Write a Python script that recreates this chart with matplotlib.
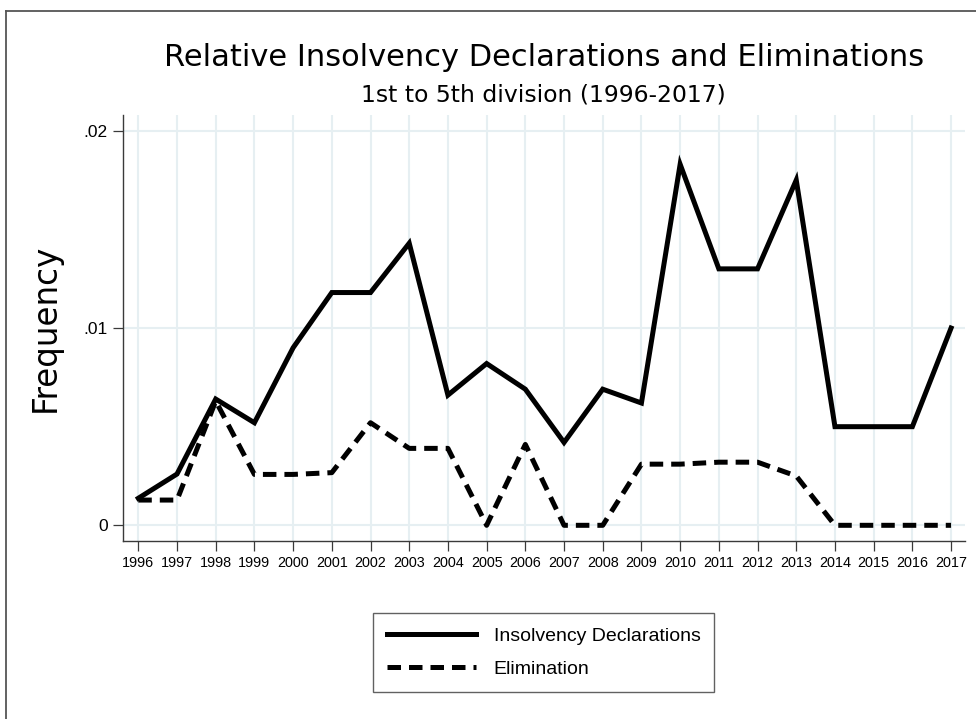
import matplotlib
matplotlib.use("Agg")
import matplotlib.pyplot as plt
from matplotlib.lines import Line2D

# ---- data ----
years = list(range(1996, 2018))
insolvency = [0.00137, 0.0026, 0.0064, 0.0052, 0.0090, 0.0118, 0.0118, 0.0143,
              0.0066, 0.0082, 0.0069, 0.0042, 0.0069, 0.0062, 0.0183, 0.0130,
              0.0130, 0.0175, 0.0050, 0.0050, 0.0050, 0.0100]
elimination = [0.00128, 0.00128, 0.0063, 0.00258, 0.00258, 0.00267, 0.0052, 0.0039,
               0.0039, 0.0, 0.0041, 0.0, 0.0, 0.0031, 0.0031, 0.0032,
               0.0032, 0.0025, 0.0, 0.0, 0.0, 0.0]
ytick_vals = [0, 0.01, 0.02]
ytick_labels = ["0", ".01", ".02"]
series_labels = ["Insolvency Declarations", "Elimination"]
title = "Relative Insolvency Declarations and Eliminations"
subtitle = "1st to 5th division (1996-2017)"
ylabel = "Frequency"

W, H = 976, 719
fig = plt.figure(figsize=(W / 100, H / 100), dpi=100)
fig.patch.set_facecolor("white")

def fx(px):
    return px / W

def fy(py):
    return 1 - py / H

left, right, top, bottom = 122.7, 965, 115, 540.7
ax = fig.add_axes([fx(left), fy(bottom), fx(right - left), (bottom - top) / H])

grid_c = "#E6EFF2"
spine_c = "#3a3a3a"

lw = 3.6
l1, = ax.plot(years, insolvency, color="black", lw=lw, solid_joinstyle="miter",
              label=series_labels[0], zorder=3)
l2, = ax.plot(years, elimination, color="black", lw=lw,
              linestyle=(0, (2.7, 1.6)), label=series_labels[1], zorder=3)

ax.set_xlim(1995.597, 2017.36)
ax.set_ylim(-0.00078, 0.0208)
ax.set_xticks(years)
ax.set_xticklabels([str(y) for y in years])
ax.set_yticks(ytick_vals)
ax.set_yticklabels(ytick_labels)

ax.grid(True, color=grid_c, lw=1.5, zorder=0)
ax.set_axisbelow(True)
for s in ["top", "right"]:
    ax.spines[s].set_visible(False)
for s in ["left", "bottom"]:
    ax.spines[s].set_color(spine_c)
    ax.spines[s].set_linewidth(1.0)

ax.tick_params(axis="both", direction="out", length=7.2, width=0.9, color=spine_c)
ax.tick_params(axis="x", pad=4, labelsize=10.4)
ax.tick_params(axis="y", pad=3.5, labelsize=12.5)
for t in ax.get_xticklabels() + ax.get_yticklabels():
    t.set_fontfamily("Liberation Sans")
    t.set_color("black")

# titles
cx = fx((left + right) / 2)
fig.text(cx, fy(66), title, ha="center", va="baseline", fontsize=22,
         family="DejaVu Sans", color="black")
fig.text(cx, fy(101), subtitle, ha="center", va="baseline", fontsize=16.9,
         family="DejaVu Sans", color="black")
fig.text(fx(45), fy(328), ylabel, ha="center", va="center", rotation=90,
         fontsize=23.5, family="DejaVu Sans", color="black")

# legend
leg = fig.legend(handles=[l1, l2], labels=series_labels,
                 loc="center", bbox_to_anchor=(fx((371 + 716) / 2), fy((612.3 + 692.7) / 2)),
                 prop={"family": "Liberation Sans", "size": 14},
                 handlelength=4.6, handletextpad=0.9, borderpad=0.72,
                 labelspacing=0.8, frameon=True, fancybox=False)
leg.get_frame().set_edgecolor(spine_c)
leg.get_frame().set_linewidth(1.0)

# outer border (partially visible)
fig.add_artist(Line2D([fx(5.5), fx(5.5)], [0, fy(10.7)], transform=fig.transFigure,
                      color="#555555", lw=1.3))
fig.add_artist(Line2D([fx(5.5), 1], [fy(10.7), fy(10.7)], transform=fig.transFigure,
                      color="#555555", lw=1.3))

fig.savefig("out.png", dpi=100, facecolor="white")
